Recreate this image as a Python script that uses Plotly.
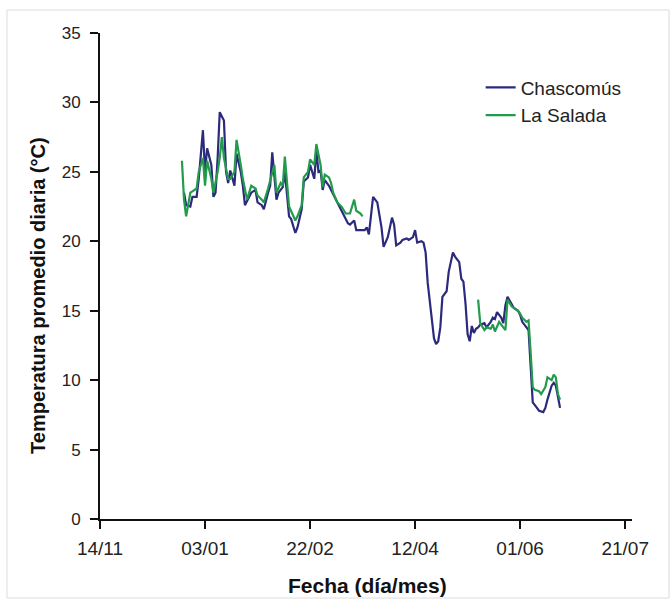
import plotly.graph_objects as go

# ---- data ----
chascomus_dates = [
    "2007-12-24", "2007-12-25", "2007-12-27", "2007-12-28", "2007-12-30", "2007-12-31",
    "2008-01-02", "2008-01-03", "2008-01-04", "2008-01-06", "2008-01-07", "2008-01-08",
    "2008-01-09", "2008-01-10", "2008-01-12", "2008-01-13", "2008-01-14", "2008-01-15",
    "2008-01-17", "2008-01-18", "2008-01-20", "2008-01-21", "2008-01-22", "2008-01-24",
    "2008-01-25", "2008-01-27", "2008-01-28", "2008-01-30", "2008-01-31", "2008-02-02",
    "2008-02-03", "2008-02-04", "2008-02-06", "2008-02-07", "2008-02-09", "2008-02-10",
    "2008-02-12", "2008-02-13", "2008-02-15", "2008-02-16", "2008-02-18", "2008-02-19",
    "2008-02-21", "2008-02-22", "2008-02-24", "2008-02-25", "2008-02-26", "2008-02-27",
    "2008-02-28", "2008-02-29", "2008-03-02", "2008-03-03", "2008-03-06", "2008-03-09",
    "2008-03-11", "2008-03-12", "2008-03-14", "2008-03-15", "2008-03-17", "2008-03-19",
    "2008-03-20", "2008-03-21", "2008-03-23", "2008-03-24", "2008-03-25", "2008-03-27",
    "2008-03-28", "2008-03-30", "2008-03-31", "2008-04-01", "2008-04-02", "2008-04-03",
    "2008-04-05", "2008-04-06", "2008-04-08", "2008-04-09", "2008-04-11", "2008-04-12",
    "2008-04-13", "2008-04-15", "2008-04-16", "2008-04-17", "2008-04-18", "2008-04-20",
    "2008-04-21", "2008-04-22", "2008-04-23", "2008-04-24", "2008-04-25", "2008-04-27",
    "2008-04-28", "2008-04-30", "2008-05-01", "2008-05-03", "2008-05-04", "2008-05-05",
    "2008-05-06", "2008-05-07", "2008-05-08", "2008-05-09", "2008-05-10", "2008-05-11",
    "2008-05-12", "2008-05-13", "2008-05-15", "2008-05-16", "2008-05-18", "2008-05-19",
    "2008-05-20", "2008-05-21", "2008-05-23", "2008-05-24", "2008-05-25", "2008-05-26",
    "2008-05-28", "2008-05-29", "2008-05-31", "2008-06-01", "2008-06-02", "2008-06-04",
    "2008-06-05", "2008-06-06", "2008-06-07", "2008-06-09", "2008-06-10", "2008-06-12",
    "2008-06-13", "2008-06-14", "2008-06-16", "2008-06-17", "2008-06-18", "2008-06-19",
    "2008-06-20",
]
chascomus_temp = [
    23.5, 22.6, 22.5, 23.2, 23.2, 24.5,
    28.0, 25.0, 26.7, 25.5, 23.2, 23.5,
    26.0, 29.3, 28.7, 25.0, 24.2, 25.1,
    24.0, 26.3, 25.0, 24.0, 22.6, 23.2,
    23.5, 23.7, 22.8, 22.6, 22.3, 23.5,
    24.0, 26.4, 23.0, 23.5, 23.9, 25.0,
    21.8, 21.6, 20.6, 21.0, 22.3, 24.3,
    24.6, 25.5, 24.5, 26.5, 25.0, 25.1,
    23.7, 24.4, 24.0, 23.7, 22.8, 21.8,
    21.3, 21.2, 21.5, 20.8, 20.8, 20.8,
    21.0, 20.5, 23.2, 23.0, 22.8, 21.0,
    19.6, 20.3, 21.0, 21.7, 21.2, 19.7,
    19.9, 20.1, 20.2, 20.1, 20.3, 20.8,
    19.9, 20.0, 19.9, 19.2, 17.0, 14.5,
    13.0, 12.6, 12.8, 13.8, 16.0, 16.4,
    17.8, 19.2, 18.9, 18.5, 17.3, 17.1,
    15.5, 13.3, 12.8, 13.9, 13.4, 13.7,
    13.8, 14.0, 14.1, 13.8, 14.2, 14.5,
    14.4, 14.9, 14.5, 14.1, 15.4, 16.0,
    15.5, 15.2, 15.0, 14.7, 14.2, 13.8,
    13.6, 11.0, 8.4, 8.0, 7.8, 7.7,
    8.0, 8.6, 9.6, 9.8, 9.6, 8.8,
    8.0,
]

salada_dates = [
    "2007-12-23", "2007-12-24", "2007-12-25", "2007-12-27", "2007-12-28", "2007-12-30",
    "2007-12-31", "2008-01-02", "2008-01-03", "2008-01-04", "2008-01-06", "2008-01-07",
    "2008-01-09", "2008-01-10", "2008-01-11", "2008-01-12", "2008-01-14", "2008-01-15",
    "2008-01-17", "2008-01-18", "2008-01-20", "2008-01-21", "2008-01-23", "2008-01-24",
    "2008-01-25", "2008-01-27", "2008-01-28", "2008-01-30", "2008-01-31", "2008-02-02",
    "2008-02-03", "2008-02-05", "2008-02-06", "2008-02-08", "2008-02-09", "2008-02-10",
    "2008-02-12", "2008-02-13", "2008-02-15", "2008-02-16", "2008-02-18", "2008-02-19",
    "2008-02-21", "2008-02-22", "2008-02-24", "2008-02-25", "2008-02-27", "2008-02-28",
    "2008-02-29", "2008-03-02", "2008-03-03", "2008-03-04", "2008-03-06", "2008-03-08",
    "2008-03-10", "2008-03-12", "2008-03-13", "2008-03-14", "2008-03-15", "2008-03-17",
    "2008-03-18",
    "2008-04-15",  # gap in the record
    "2008-05-12", "2008-05-13", "2008-05-15", "2008-05-16", "2008-05-18", "2008-05-19",
    "2008-05-20", "2008-05-22", "2008-05-23", "2008-05-25", "2008-05-26", "2008-05-28",
    "2008-05-29", "2008-05-31", "2008-06-01", "2008-06-02", "2008-06-04", "2008-06-05",
    "2008-06-06", "2008-06-07", "2008-06-08", "2008-06-10", "2008-06-11", "2008-06-13",
    "2008-06-14", "2008-06-16", "2008-06-17", "2008-06-18", "2008-06-19", "2008-06-20",
]
salada_temp = [
    25.8, 23.0, 21.8, 23.5, 23.6, 23.8,
    25.0, 26.0, 24.0, 25.8, 24.5, 23.5,
    25.0, 26.0, 27.5, 26.0, 24.5, 24.5,
    25.0, 27.3, 25.5, 24.5, 23.0, 23.5,
    24.0, 23.8, 23.3, 23.0, 22.8, 23.8,
    24.4, 25.5, 23.5, 24.2, 24.0, 26.1,
    22.5, 22.2, 21.5, 21.8, 22.6, 24.6,
    25.0, 25.9, 25.5, 27.0, 25.5, 23.9,
    24.8, 24.6, 24.2, 23.5, 22.8, 22.5,
    22.0, 22.0, 22.5, 23.0, 22.2, 22.0,
    21.8,
    None,
    15.8, 14.1, 13.6, 13.8, 13.7, 14.0,
    13.5, 14.2, 14.0, 13.6, 15.8, 15.3,
    15.2, 15.0, 14.8, 14.5, 14.2, 14.3,
    12.0, 9.5, 9.3, 9.2, 9.0, 9.5,
    10.2, 10.0, 10.4, 10.2, 9.0, 8.6,
]

tick_dates = ["2007-11-14", "2008-01-03", "2008-02-22", "2008-04-12", "2008-06-01", "2008-07-21"]
tick_labels = ["14/11", "03/01", "22/02", "12/04", "01/06", "21/07"]
y_ticks = [0, 5, 10, 15, 20, 25, 30, 35]

BLUE = "#2b2a7c"
GREEN = "#239a4c"
FONT = "Liberation Sans, Arial, sans-serif"

fig = go.Figure()
fig.add_trace(go.Scatter(x=chascomus_dates, y=chascomus_temp, mode="lines",
                         name="Chascomús", line=dict(color=BLUE, width=2.2)))
fig.add_trace(go.Scatter(x=salada_dates, y=salada_temp, mode="lines",
                         name="La Salada", connectgaps=False,
                         line=dict(color=GREEN, width=2.2)))

fig.update_layout(
    width=670, height=599,
    margin=dict(l=100, r=38, t=33, b=80),
    paper_bgcolor="white", plot_bgcolor="white",
    font=dict(family=FONT, size=17, color="#222222"),
    showlegend=True,
    legend=dict(x=0.7155, y=0.927, xanchor="left", yanchor="top",
                bgcolor="rgba(0,0,0,0)", borderwidth=0,
                font=dict(size=19, color="#222222"), tracegroupgap=0),
    xaxis=dict(type="date", range=["2007-11-14", "2008-07-24 06:00"],
               tickmode="array", tickvals=tick_dates, ticktext=tick_labels,
               showline=True, linecolor="#111111", linewidth=2,
               ticks="outside", ticklen=8, tickwidth=2, tickcolor="#111111",
               showgrid=False, zeroline=False, ticklabelstandoff=3,
               tickfont=dict(size=19, color="#222222")),
    yaxis=dict(range=[0, 35], tickmode="array", tickvals=y_ticks,
               showline=True, linecolor="#111111", linewidth=2,
               ticks="outside", ticklen=8, tickwidth=2, tickcolor="#111111",
               showgrid=False, zeroline=False, ticklabelstandoff=6,
               tickfont=dict(size=17, color="#222222")),
    annotations=[
        dict(text="<b>Temperatura promedio diaria (°C)</b>", xref="paper", yref="paper",
             x=-0.1165, y=0.459, xanchor="center", yanchor="middle", textangle=-90,
             showarrow=False, font=dict(size=20, color="#111111", family=FONT)),
        dict(text="<b>Fecha (día/mes)</b>", xref="paper", yref="paper",
             x=0.502, y=-0.137, xanchor="center", yanchor="middle",
             showarrow=False, font=dict(size=21, color="#111111", family=FONT)),
    ],
    shapes=[
        dict(type="rect", xref="paper", yref="paper",
             x0=-0.1748, x1=1.0695, y0=-0.1626, y1=1.0473,
             line=dict(color="#dcdcdc", width=1), fillcolor="rgba(0,0,0,0)", layer="below"),
    ],
)

fig.write_html("out.html")
